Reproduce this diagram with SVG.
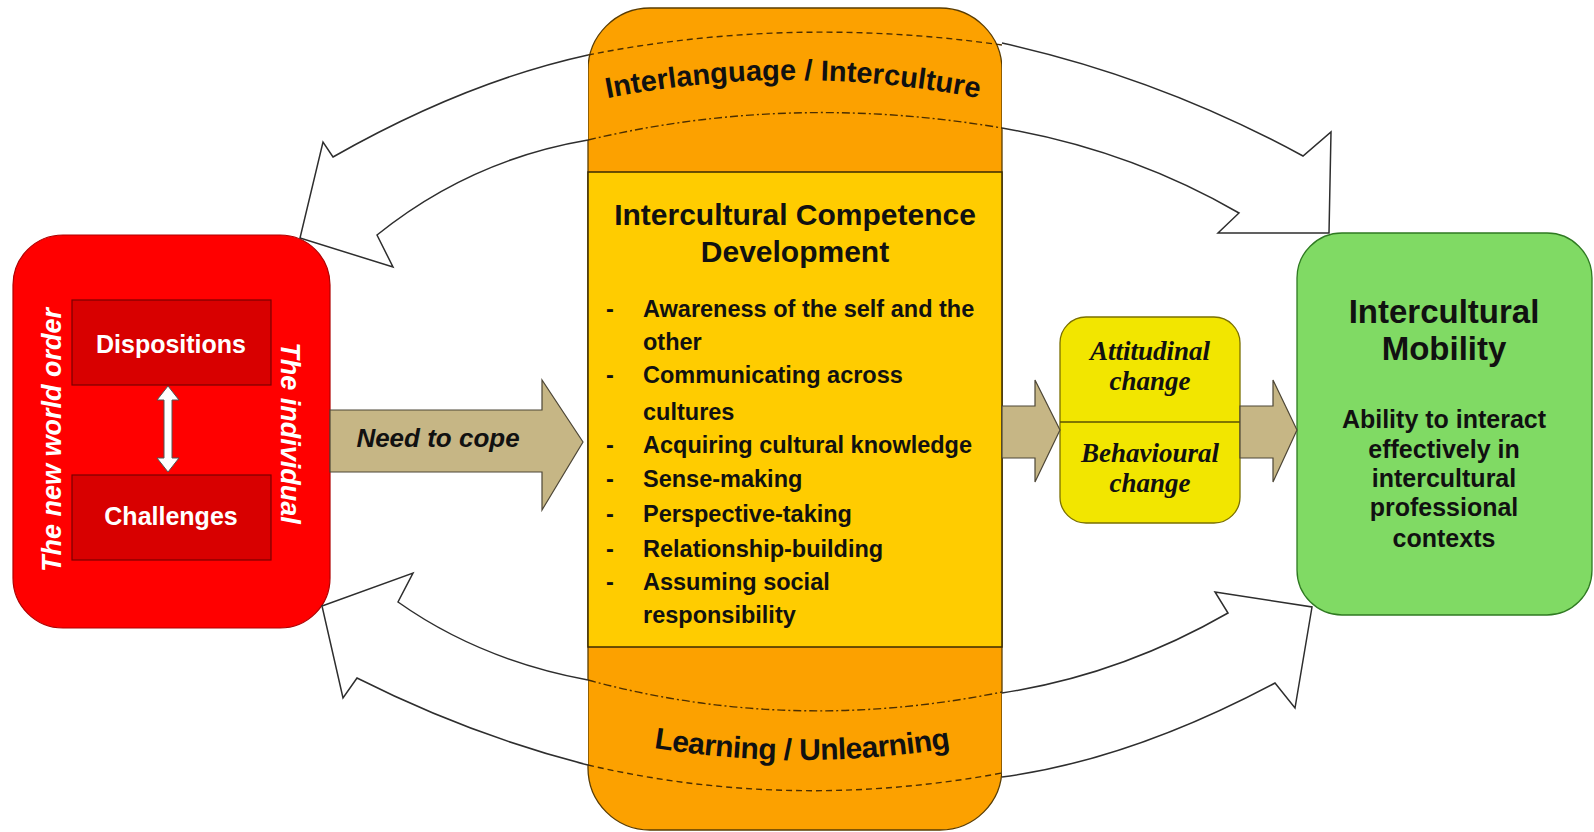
<svg xmlns="http://www.w3.org/2000/svg" width="1594" height="832" viewBox="0 0 1594 832">
  <style>
    .sans { font-family: "Liberation Sans", Arial, sans-serif; font-weight: bold; }
    .serif { font-family: "Liberation Serif", "Times New Roman", serif; font-weight: bold; font-style: italic; }
    .dash { fill: none; stroke: #4a2e00; stroke-width: 1.4; stroke-dasharray: 6 4; }
    .dashdot { fill: none; stroke: #4a2e00; stroke-width: 1.4; stroke-dasharray: 8 3 2 3; }
    .curved { fill: #ffffff; stroke: #2e2e2e; stroke-width: 1.5; stroke-linejoin: miter; }
    .block { fill: #c6b685; stroke: #4d4636; stroke-width: 1.2; }
    .inner { fill: #d80000; stroke: #7a0000; stroke-width: 1.2; }
    .bullet { font-size: 23.5px; fill: #111; }
  </style>
  <defs>
    <path id="arcTop" d="M598,100 Q792,60 988,100"/>
    <path id="arcBot" d="M636,745 Q802,775 968,745"/>
  </defs>

  <rect width="1594" height="832" fill="#ffffff"/>

  <!-- left node: the individual facing the new world order -->
  <g id="individual">
    <rect x="13" y="235" width="317" height="393" rx="50" fill="#ff0000" stroke="#b00000" stroke-width="1.2"/>
    <rect class="inner" x="72" y="300" width="199" height="85"/>
    <rect class="inner" x="72" y="475" width="199" height="85"/>
    <text class="sans" x="171" y="353" font-size="25" fill="#ffffff" text-anchor="middle">Dispositions</text>
    <text class="sans" x="171" y="525" font-size="25" fill="#ffffff" text-anchor="middle">Challenges</text>
    <text class="sans" transform="translate(61,440) rotate(-90)" font-size="27" font-style="italic" fill="#ffffff" text-anchor="middle">The new world order</text>
    <text class="sans" transform="translate(281,433) rotate(90)" font-size="27" font-style="italic" fill="#ffffff" text-anchor="middle">The individual</text>
  </g>

  <!-- central column -->
  <g id="competence">
    <rect x="588" y="8" width="414" height="822" rx="62" fill="#fca100" stroke="#5a3c00" stroke-width="1.3"/>
    <rect x="588" y="172" width="414" height="475" fill="#ffcc00" stroke="#3a2a00" stroke-width="1.5"/>
    <path class="dash" d="M588,55 Q790,15 1002,45"/>
    <path class="dashdot" d="M588,140 Q790,92 1002,128"/>
    <path class="dashdot" d="M588,680 Q790,735 1002,692"/>
    <path class="dash" d="M588,765 Q790,812 1002,773"/>
    <text class="sans" font-size="29" fill="#111"><textPath href="#arcTop" startOffset="50%" text-anchor="middle">Interlanguage / Interculture</textPath></text>
    <text class="sans" font-size="30" fill="#111" letter-spacing="-0.5"><textPath href="#arcBot" startOffset="50%" text-anchor="middle">Learning / Unlearning</textPath></text>
    <text class="sans" x="795" y="225" font-size="30" fill="#111" text-anchor="middle">Intercultural Competence</text>
    <text class="sans" x="795" y="262" font-size="30" fill="#111" text-anchor="middle">Development</text>
    <g class="sans bullet">
      <text x="606" y="317">-</text><text x="643" y="317">Awareness of the self and the</text>
      <text x="643" y="350">other</text>
      <text x="606" y="383">-</text><text x="643" y="383">Communicating across</text>
      <text x="643" y="420">cultures</text>
      <text x="606" y="453">-</text><text x="643" y="453">Acquiring cultural knowledge</text>
      <text x="606" y="487">-</text><text x="643" y="487">Sense-making</text>
      <text x="606" y="522">-</text><text x="643" y="522">Perspective-taking</text>
      <text x="606" y="557">-</text><text x="643" y="557">Relationship-building</text>
      <text x="606" y="590">-</text><text x="643" y="590">Assuming social</text>
      <text x="643" y="623">responsibility</text>
    </g>
  </g>

  <!-- change box -->
  <g id="change">
    <rect x="1060" y="317" width="180" height="206" rx="26" fill="#f2e600" stroke="#7a7000" stroke-width="1.3"/>
    <line x1="1060" y1="422" x2="1240" y2="422" stroke="#5a5200" stroke-width="1.3"/>
    <text class="serif" x="1150" y="360" font-size="27" fill="#111" text-anchor="middle">Attitudinal</text>
    <text class="serif" x="1150" y="390" font-size="27" fill="#111" text-anchor="middle">change</text>
    <text class="serif" x="1150" y="462" font-size="27" fill="#111" text-anchor="middle">Behavioural</text>
    <text class="serif" x="1150" y="492" font-size="27" fill="#111" text-anchor="middle">change</text>
  </g>

  <!-- outcome node -->
  <g id="mobility">
    <rect x="1297" y="233" width="295" height="382" rx="45" fill="#80da64" stroke="#2f7a22" stroke-width="1.3"/>
    <text class="sans" x="1444" y="323" font-size="33" fill="#111" text-anchor="middle">Intercultural</text>
    <text class="sans" x="1444" y="360" font-size="33" fill="#111" text-anchor="middle">Mobility</text>
    <g class="sans" font-size="25" fill="#111" text-anchor="middle">
      <text x="1444" y="428">Ability to interact</text>
      <text x="1444" y="458">effectively in</text>
      <text x="1444" y="487">intercultural</text>
      <text x="1444" y="516">professional</text>
      <text x="1444" y="547">contexts</text>
    </g>
  </g>

  <!-- connectors -->
  <g id="connectors">
    <!-- dispositions <-> challenges -->
    <path d="M168,386 L179,400 L172,400 L172,458 L179,458 L168,472 L157,458 L164,458 L164,400 L157,400 Z" fill="#ffffff" stroke="#555" stroke-width="1"/>
    <!-- need to cope -->
    <path class="block" d="M330,410 H542 V380 L583,442 L542,510 V472 H330 Z"/>
    <text class="sans" x="438" y="447" font-size="26" font-style="italic" fill="#111" text-anchor="middle">Need to cope</text>
    <!-- competence -> change -> mobility -->
    <path class="block" d="M1002,406 H1035 V380 L1060,430 L1035,482 V458 H1002 Z"/>
    <path class="block" d="M1240,406 H1273 V380 L1297,430 L1273,482 V458 H1240 Z"/>
    <!-- feedback loops -->
    <path class="curved" d="M588,55 Q465,82 333,157 L323,142 L300,238 L393,267 L377,235 Q470,160 588,140"/>
    <path class="curved" d="M1002,43 Q1160,78 1303,156 L1331,132 L1329,233 L1218,233 L1239,213 Q1130,150 1002,128"/>
    <path class="curved" d="M588,680 Q480,660 398,602 L413,573 L322,606 L343,698 L357,678 Q470,735 588,765"/>
    <path class="curved" d="M1002,693 Q1120,675 1228,613 L1215,592 L1312,607 L1295,708 L1275,683 Q1130,760 1002,777"/>
  </g>
</svg>
